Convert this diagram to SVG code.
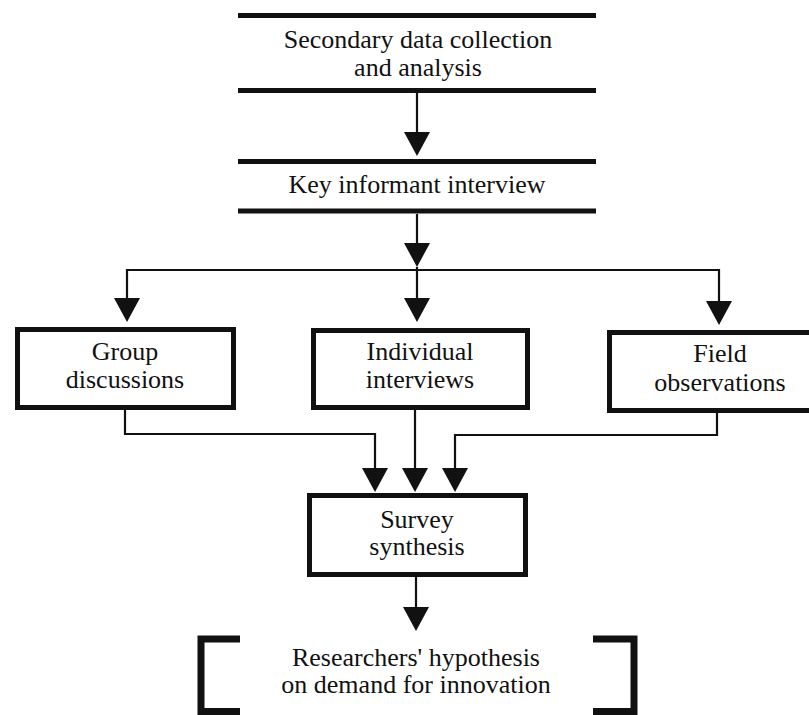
<svg xmlns="http://www.w3.org/2000/svg" width="809" height="715" viewBox="0 0 809 715">
<defs>
<style>
.t{font-family:'Liberation Serif','Times New Roman',serif;font-size:26px;fill:#111;text-anchor:middle}
.b{fill:#fff;stroke:#111;stroke-width:5}
.h{stroke:#111;stroke-width:5;fill:none}
.c{stroke:#111;stroke-width:2.2;fill:none}
.a{fill:#111}
.br{stroke:#111;stroke-width:7;fill:none}
</style>
</defs>
<rect width="809" height="715" fill="#fff"/>
<g id="connectors">
<line class="c" x1="417" y1="93" x2="417" y2="134"/>
<polygon class="a" points="404,132 430,132 417,156"/>
<line class="c" x1="417" y1="214" x2="417" y2="245"/>
<polygon class="a" points="404,243 430,243 417,267"/>
<polyline class="c" points="127,300 127,270 719,270 719,303"/>
<line class="c" x1="417" y1="267" x2="417" y2="300"/>
<polygon class="a" points="114,298 140,298 127,322"/>
<polygon class="a" points="404,298 430,298 417,322"/>
<polygon class="a" points="706,301 732,301 719,325"/>
<polyline class="c" points="125,410 125,434 375,434 375,470"/>
<line class="c" x1="415" y1="410" x2="415" y2="470"/>
<polyline class="c" points="717,413 717,435 455,435 455,470"/>
<polygon class="a" points="362,468 388,468 375,492"/>
<polygon class="a" points="402,468 428,468 415,492"/>
<polygon class="a" points="442,468 468,468 455,492"/>
<line class="c" x1="416" y1="577" x2="416" y2="609"/>
<polygon class="a" points="403,607 429,607 416,631"/>
</g>
<g id="secondary">
<line class="h" x1="238" y1="15.5" x2="596" y2="15.5"/>
<line class="h" x1="238" y1="90.5" x2="596" y2="90.5"/>
<text class="t" x="418" y="48">Secondary data collection</text>
<text class="t" x="418" y="76">and analysis</text>
</g>
<g id="key">
<line class="h" x1="238" y1="161.5" x2="596" y2="161.5"/>
<line class="h" x1="238" y1="211" x2="596" y2="211"/>
<text class="t" x="417" y="193">Key informant interview</text>
</g>
<g id="group">
<rect class="b" x="17.5" y="329.5" width="216" height="78"/>
<text class="t" x="125" y="360">Group</text>
<text class="t" x="125" y="388">discussions</text>
</g>
<g id="individual">
<rect class="b" x="313.5" y="330.5" width="214" height="77"/>
<text class="t" x="420" y="360">Individual</text>
<text class="t" x="420" y="388">interviews</text>
</g>
<g id="field">
<rect class="b" x="609.5" y="332.5" width="210" height="78"/>
<text class="t" x="720" y="362">Field</text>
<text class="t" x="720" y="391">observations</text>
</g>
<g id="survey">
<rect class="b" x="309.5" y="495.5" width="216" height="79"/>
<text class="t" x="417" y="528">Survey</text>
<text class="t" x="417" y="555">synthesis</text>
</g>
<g id="hypothesis">
<path class="br" d="M240 639 H201 V711.5 H240"/>
<path class="br" d="M593 639 H634 V711.5 H593"/>
<text class="t" x="416" y="666">Researchers' hypothesis</text>
<text class="t" x="416" y="693">on demand for innovation</text>
</g>
</svg>
